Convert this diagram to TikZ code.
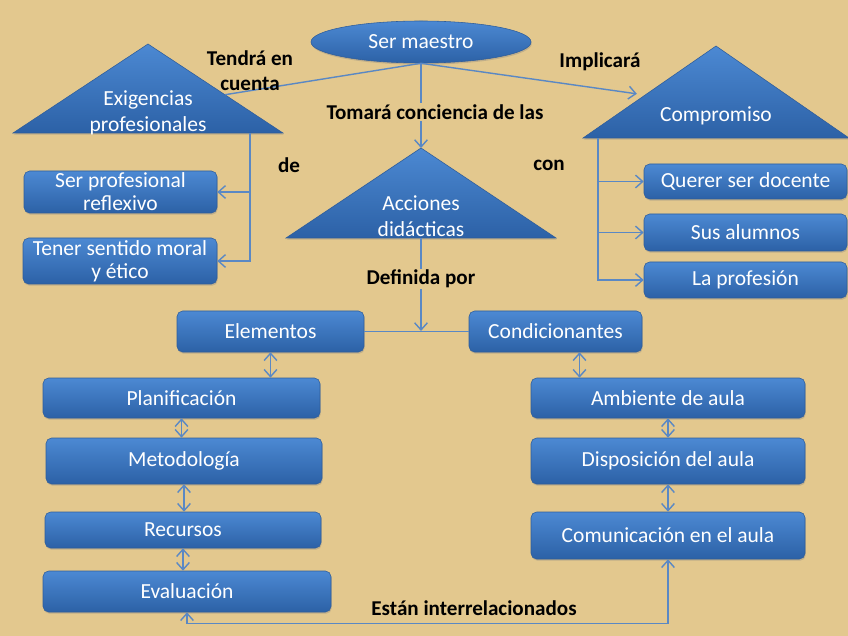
\documentclass[tikz,border=0pt]{standalone}
\usepackage{fontspec}
\setmainfont{Carlito}
\usetikzlibrary{arrows.meta,positioning,calc,shapes.geometric,shadows}
\definecolor{paper}{HTML}{E3C88E}
\definecolor{boxtop}{HTML}{4C89D3}
\definecolor{boxbot}{HTML}{2C61A6}
\definecolor{boxline}{HTML}{2E5D9B}
\definecolor{link}{HTML}{5A88C4}

\begin{document}
\begin{tikzpicture}[x=0.025cm,y=-0.025cm,
  >={Straight Barb[length=1.8mm,width=3.2mm]},
  box/.style={rounded corners=4pt,top color=boxtop,bottom color=boxbot,draw=boxline,line width=.4pt,
    text=white,align=center,inner sep=0pt,font=\fontsize{15.3}{16.5}\selectfont,
    drop shadow={shadow xshift=.5pt,shadow yshift=-1.2pt,opacity=.35}},
  tri/.style={top color=boxtop,bottom color=boxbot,draw=boxline,line width=.4pt,
    drop shadow={shadow xshift=.5pt,shadow yshift=-1.2pt,opacity=.35}},
  tritxt/.style={text=white,align=center,font=\fontsize{15.3}{18.5}\selectfont},
  lbl/.style={font=\bfseries\fontsize{15}{18}\selectfont,align=center,inner sep=1pt},
  conn/.style={link,line width=1pt}]
 \fill[paper] (0,0) rectangle (848,636);
 \useasboundingbox (0,0) rectangle (848,636);
 % central oval and the three triangles
 \node[ellipse,top color=boxtop,bottom color=boxbot,draw=boxline,line width=.4pt,text=white,
   minimum width=5.5cm,minimum height=1.05cm,inner sep=0pt,font=\fontsize{15.3}{16.5}\selectfont,
   drop shadow={shadow xshift=.5pt,shadow yshift=-1.2pt,opacity=.35}] (sm) at (421,42) {Ser maestro};
 \foreach \n/\x/\yt/\yb/\hw in {exi/148/44/133/135, comp/716/46/138/133, acc/421/148/238/135}{
   \path[tri] (\x,\yt) coordinate (\n top) -- (\x+\hw,\yb) coordinate (\n R)
     -- (\x-\hw,\yb) coordinate (\n L) -- cycle;
 }
 \node[tritxt] (exiT) at (148,113) {Exigencias\\profesionales};
 \node[tritxt] (compT) at (716,116) {Compromiso};
 \node[tritxt] (accT) at (421,216) {Acciones\\didácticas};
 % boxes
 \foreach \n/\x/\y/\w/\h/\t in {ref/120.5/192/193/42/{Ser profesional\\reflexivo},
     moral/120/261/194/46/{Tener sentido moral\\y ético},
     doc/745.5/181.5/203/35/{Querer ser docente}, alum/745.5/232.5/203/37/{Sus alumnos},
     prof/745.5/280/203/36/{La profesión},
     elem/270.5/331.5/187/41/{Elementos}, cond/555.5/331.5/173/41/{Condicionantes},
     plan/181.5/398/277/40/{Planificación}, met/184/461/276/46/{Metodología},
     rec/183/530/276/36/{Recursos}, eva/187/591.5/288/41/{Evaluación},
     amb/668/398/274/40/{Ambiente de aula}, dis/668/461/274/46/{Disposición del aula},
     com/668/535.5/274/47/{Comunicación en el aula}}{
   \node[box,minimum width=\w*0.025cm,minimum height=\h*0.025cm] (\n) at (\x,\y) {\t};
 }
 % links from the oval
 \coordinate (exiE) at ($(exitop)!0.57!(exiR)$);
 \coordinate (compE) at ($(comptop)!0.52!(compL)+(-10,0)$);
 \draw[conn] (sm.south) -- (exiE);
 \draw[conn,->] (sm.south) -- (compE);
 \draw[conn,->] (sm.south) -- (acctop);
 \node[lbl] (tendra) at (250,71) {Tendrá en\\cuenta};
 \node[lbl] (implica) at (600,62) {Implicará};
 \node[lbl,fill=paper] (tomara) at (435,112) {Tomará conciencia de las};
 \node[lbl] (de) at (289,165) {de};
 \node[lbl] (con) at (549,165) {con};
 % branches
 \coordinate (exiS) at (250,133);
 \coordinate (compS) at (598,138);
 \draw[conn,->] (exiS) |- (ref);
 \draw[conn,->] (exiS) |- (moral);
 \draw[conn,->] (compS) |- (doc);
 \draw[conn,->] (compS) |- (alum);
 \draw[conn,->] (compS) |- (prof);
 \coordinate (jn) at (421,331);
 \draw[conn] (elem) -- (cond);
 \draw[conn,->] (acctop |- accL) -- (jn);
 \node[lbl,fill=paper] (definida) at (421,279) {Definida por};
 % the two columns
 \draw[conn,<->] (elem.south) -- (elem.south |- plan.north);
 \draw[conn,<->] (plan.south) -- (plan.south |- met.north);
 \draw[conn,<->] (met.south) -- (met.south |- rec.north);
 \draw[conn,<->] (rec.south) -- (rec.south |- eva.north);
 \coordinate (cd) at ($(cond.south)+(24,0)$);
 \draw[conn,<->] (cd) -- (cd |- amb.north);
 \draw[conn,<->] (amb.south) -- (amb.south |- dis.north);
 \draw[conn,<->] (dis.south) -- (dis.south |- com.north);
 \draw[conn,<->] (eva.south) -- ++(0,11) -| (com.south);
 \node[lbl] (estan) at (474,608) {Están interrelacionados};
\end{tikzpicture}
\end{document}
